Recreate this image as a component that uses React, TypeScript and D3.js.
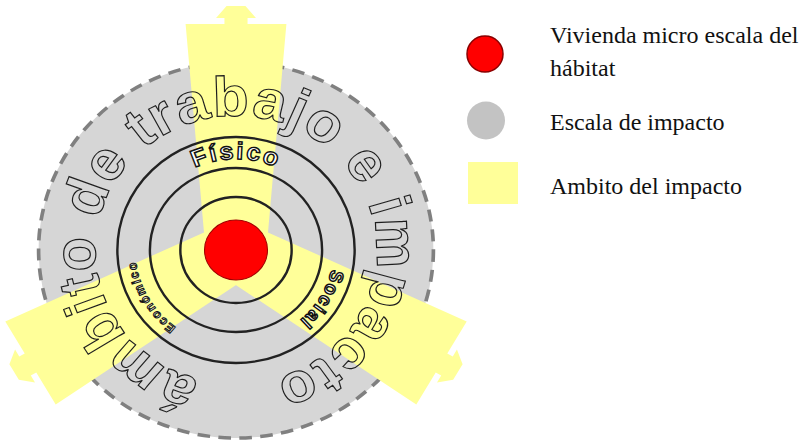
import React, { useEffect, useRef } from 'react';
import * as d3 from 'd3';

// diagram values
const ringRadii = [53, 82, 113];
const coreRadius = 30;
const impactRadius = 188;
const armAngles = [-90, 150, 30];
const armLength = 226;
const sectorLabels = ['Físico', 'Social', 'Económico'];
const sectorAngles = [-90, 31, 150];
const sectorRadii = [91, 93, 96];
const sectorSizes = [24, 18, 12];
const sectorSpacing = [2, 1.5, 1.6];
const ringTitle = 'ámbito de trabajo e impacto';
const titleStart = 105;
const titleEnd = 434;
const titleRadius = 134;
const legendLabels = [['Vivienda micro escala del', 'hábitat'], ['Escala de impacto'], ['Ambito del impacto']];
const legendKinds = ['core', 'scale', 'scope'];

const W = 810;
const H = 444;
const YELLOW = '#ffff99';
const SANS = 'Liberation Sans, Arial, sans-serif';

const App = () => {
  const svgRef = useRef<SVGSVGElement | null>(null);

  useEffect(() => {
    const svg = d3.select(svgRef.current);
    svg.selectAll('*').remove();

    const toRad = (a: number) => (a * Math.PI) / 180;
    const g = svg.append('g').attr('transform', 'translate(236,250) scale(1.05,1)');

    // gray impact scale
    g.append('circle')
      .attr('r', impactRadius)
      .attr('fill', '#d6d6d6')
      .attr('stroke', '#808080')
      .attr('stroke-width', 3.5)
      .attr('stroke-dasharray', '12 8');

    // yellow arms, built along +x and rotated
    const hw = d3.scaleLinear().domain([0, armLength]).range([29, 48]);
    const armPts: [number, number][] = [
      [0, -hw(0)], [armLength, -hw(armLength)], [armLength, -11], [armLength + 6, -11],
      [armLength + 6, -19], [armLength + 18, -9], [armLength + 18, 9], [armLength + 6, 19],
      [armLength + 6, 11], [armLength, 11], [armLength, hw(armLength)], [0, hw(0)],
    ];
    const armLine = d3.line().curve(d3.curveLinearClosed);
    g.selectAll('.arm')
      .data(armAngles)
      .join('path')
      .attr('class', 'arm')
      .attr('d', armLine(armPts))
      .attr('transform', (d) => `rotate(${d})`)
      .attr('fill', YELLOW);

    g.selectAll('.ring')
      .data(ringRadii)
      .join('circle')
      .attr('class', 'ring')
      .attr('r', (d) => d)
      .attr('fill', 'none')
      .attr('stroke', '#222')
      .attr('stroke-width', 2.3);

    // arc helper for text paths (clockwise on screen)
    const arcPath = (r: number, a0: number, a1: number) => {
      const p = d3.path();
      p.moveTo(r * Math.cos(toRad(a0)), r * Math.sin(toRad(a0)));
      p.arc(0, 0, r, toRad(a0), toRad(a1), false);
      return p.toString();
    };

    const defs = svg.append('defs');
    defs.append('path').attr('id', 'titlePath').attr('d', arcPath(titleRadius, titleStart, titleStart + 359));
    sectorLabels.forEach((_, i) => {
      const a = sectorAngles[i];
      defs.append('path').attr('id', `sec${i}`).attr('d', arcPath(sectorRadii[i], a - 90, a + 90));
    });

    // big outlined title around the ring
    const title = g.append('text')
      .attr('font-family', SANS)
      .attr('font-weight', 'bold')
      .attr('font-size', 56)
      .attr('fill', 'none')
      .attr('stroke', '#1e1e1e')
      .attr('stroke-width', 1.15);
    title.append('textPath').attr('href', '#titlePath').text(ringTitle);
    const target = (2 * Math.PI * titleRadius * (titleEnd - titleStart)) / 360;
    const natural = (title.node() as SVGTextElement).getComputedTextLength();
    title.attr('letter-spacing', (target - natural) / ringTitle.length);

    sectorLabels.forEach((lab, i) => {
      g.append('text')
        .attr('font-family', SANS)
        .attr('font-weight', 'bold')
        .attr('font-size', sectorSizes[i])
        .attr('letter-spacing', sectorSpacing[i])
        .attr('fill', '#fff')
        .attr('stroke', '#111')
        .attr('stroke-width', i === 2 ? 1 : 1.4)
        .attr('text-anchor', 'middle')
        .append('textPath')
        .attr('href', `#sec${i}`)
        .attr('startOffset', '50%')
        .text(lab);
    });

    g.append('circle')
      .attr('r', coreRadius)
      .attr('fill', '#ff0000')
      .attr('stroke', '#a00000')
      .attr('stroke-width', 1);

    // legend
    const legY = d3.scalePoint().domain(legendKinds).range([54, 183]);
    const leg = svg.append('g');
    legendKinds.forEach((k, i) => {
      const cy = legY(k) as number;
      if (k === 'core') {
        leg.append('circle').attr('cx', 485).attr('cy', cy).attr('r', 18)
          .attr('fill', '#ff0000').attr('stroke', '#8a0000').attr('stroke-width', 1.5);
      } else if (k === 'scale') {
        leg.append('circle').attr('cx', 486).attr('cy', cy + 2).attr('r', 19).attr('fill', '#c3c3c3');
      } else {
        leg.append('rect').attr('x', 468).attr('y', cy - 21).attr('width', 50).attr('height', 42).attr('fill', YELLOW);
      }
      const lines = legendLabels[i];
      const t = leg.append('text')
        .attr('x', 550)
        .attr('y', lines.length > 1 ? cy - 11 : cy + 11)
        .attr('font-family', 'Liberation Serif, Times New Roman, serif')
        .attr('font-size', 24)
        .attr('fill', '#111');
      lines.forEach((ln, j) => {
        t.append('tspan').attr('x', 550).attr('dy', j === 0 ? 0 : 33).text(ln);
      });
    });
  }, []);

  return (
    <div style={{ position: 'absolute', left: 0, top: 0, background: '#fff' }}>
      <svg ref={svgRef} width={W} height={H} style={{ display: 'block' }} />
    </div>
  );
};

export default App;
